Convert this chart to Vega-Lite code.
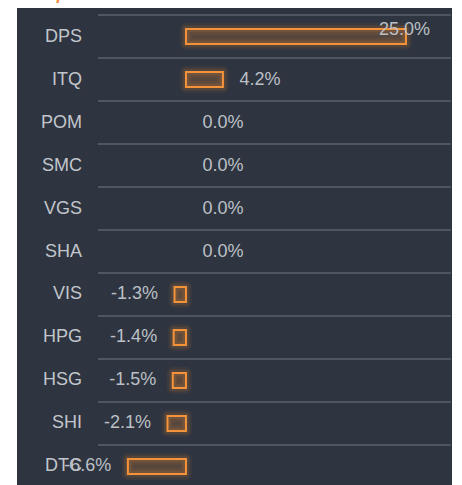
{
  "$schema": "https://vega.github.io/schema/vega-lite/v6.json",
  "autosize": "none",
  "width": 435,
  "height": 487,
  "padding": {"left": 17, "top": 8, "right": 10, "bottom": 0},
  "background": "white",
  "title": {"text": "Nhóm thép", "anchor": "start", "baseline": "alphabetic", "offset": -8, "dx": -34, "color": "#f28b30", "fontSize": 16, "fontStyle": "italic", "fontWeight": "bold", "font": "Liberation Sans"},
  "config": {
    "view": {"fill": "#2e3440", "stroke": null},
    "text": {"font": "Liberation Sans", "fontSize": 18}
  },
  "data": {
    "values": [
      {"ticker": "DPS", "value": 25.0, "label": "25.0%"},
      {"ticker": "ITQ", "value": 4.2, "label": "4.2%"},
      {"ticker": "POM", "value": 0.0, "label": "0.0%"},
      {"ticker": "SMC", "value": 0.0, "label": "0.0%"},
      {"ticker": "VGS", "value": 0.0, "label": "0.0%"},
      {"ticker": "SHA", "value": 0.0, "label": "0.0%"},
      {"ticker": "VIS", "value": -1.3, "label": "-1.3%"},
      {"ticker": "HPG", "value": -1.4, "label": "-1.4%"},
      {"ticker": "HSG", "value": -1.5, "label": "-1.5%"},
      {"ticker": "SHI", "value": -2.1, "label": "-2.1%"},
      {"ticker": "DTC", "value": -6.6, "label": "-6.6%"}
    ]
  },
  "encoding": {
    "y": {"field": "ticker", "type": "nominal", "sort": null, "axis": null,
          "scale": {"paddingInner": 0, "paddingOuter": 0.163}}
  },
  "layer": [
    {
      "mark": {"type": "rule", "color": "#4f5561", "strokeWidth": 2},
      "encoding": {
        "y": {"field": "ticker", "type": "nominal", "sort": null, "bandPosition": 0},
        "x": {"datum": -10, "type": "quantitative", "scale": {"domain": [-19.2, 30.23], "nice": false, "zero": false}, "axis": null},
        "x2": {"datum": 30.1}
      }
    },
    {
      "transform": [{"filter": "datum.value != 0"}],
      "mark": {"type": "bar", "height": {"band": 0.35}, "fill": null, "fillOpacity": 0, "stroke": "#f28b30", "strokeWidth": 12, "strokeOpacity": 0.07, "strokeJoin": "round"},
      "encoding": {"x": {"field": "value", "type": "quantitative"}, "x2": {"datum": 0}}
    },
    {
      "transform": [{"filter": "datum.value != 0"}],
      "mark": {"type": "bar", "height": {"band": 0.35}, "fill": null, "fillOpacity": 0, "stroke": "#f28b30", "strokeWidth": 7, "strokeOpacity": 0.14, "strokeJoin": "round"},
      "encoding": {"x": {"field": "value", "type": "quantitative"}, "x2": {"datum": 0}}
    },
    {
      "transform": [{"filter": "datum.value != 0"}],
      "mark": {"type": "bar", "height": {"band": 0.35}, "fill": "#f28b30", "fillOpacity": 0.2, "stroke": "#f5933a", "strokeWidth": 2},
      "encoding": {"x": {"field": "value", "type": "quantitative"}, "x2": {"datum": 0}}
    },
    {
      "mark": {"type": "text", "align": "right", "dx": -16, "color": "#c2c6cc"},
      "encoding": {"x": {"datum": -10, "type": "quantitative"}, "text": {"field": "ticker"}}
    },
    {
      "transform": [{"filter": "datum.value >= 0 && datum.value < 20"}],
      "mark": {"type": "text", "align": "left", "dx": 16.5, "color": "#bcc0c6"},
      "encoding": {"x": {"field": "value", "type": "quantitative"}, "text": {"field": "label"}}
    },
    {
      "transform": [{"filter": "datum.value >= 20"}],
      "mark": {"type": "text", "align": "right", "dx": 24, "dy": -7, "color": "#bcc0c6"},
      "encoding": {"x": {"field": "value", "type": "quantitative"}, "text": {"field": "label"}}
    },
    {
      "transform": [{"filter": "datum.value < 0"}],
      "mark": {"type": "text", "align": "right", "dx": -16.5, "color": "#bcc0c6"},
      "encoding": {"x": {"field": "value", "type": "quantitative"}, "text": {"field": "label"}}
    }
  ]
}
